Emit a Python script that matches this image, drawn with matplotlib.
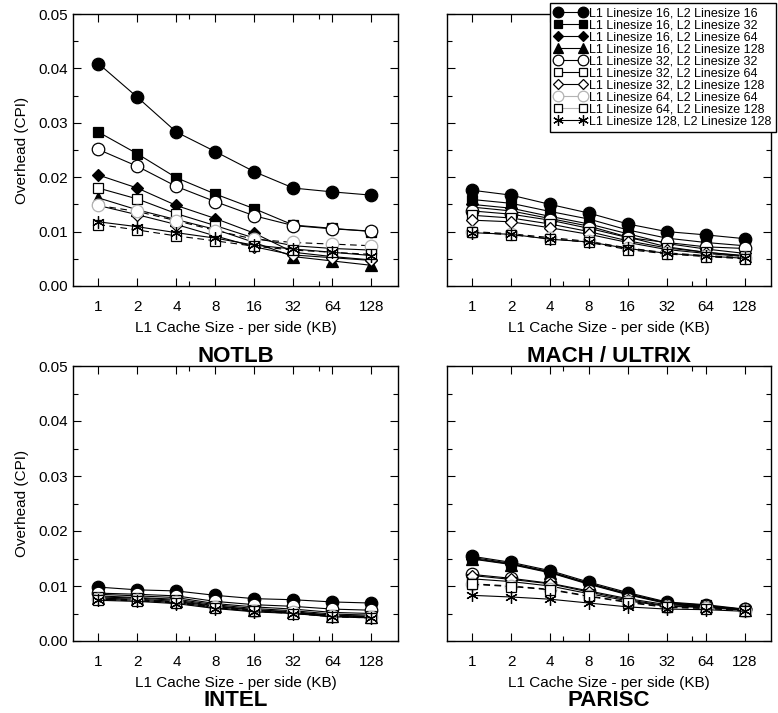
"""Overhead (CPI) vs L1 cache size for four systems, ten linesize configurations."""

import matplotlib
matplotlib.use("Agg")
import matplotlib.pyplot as plt
from matplotlib.lines import Line2D
from matplotlib.ticker import FixedLocator, MultipleLocator

plt.rcParams["font.family"] = ["Liberation Sans", "DejaVu Sans"]

sizes = ["1", "2", "4", "8", "16", "32", "64", "128"]

labels = [
    "L1 Linesize 16, L2 Linesize 16",
    "L1 Linesize 16, L2 Linesize 32",
    "L1 Linesize 16, L2 Linesize 64",
    "L1 Linesize 16, L2 Linesize 128",
    "L1 Linesize 32, L2 Linesize 32",
    "L1 Linesize 32, L2 Linesize 64",
    "L1 Linesize 32, L2 Linesize 128",
    "L1 Linesize 64, L2 Linesize 64",
    "L1 Linesize 64, L2 Linesize 128",
    "L1 Linesize 128, L2 Linesize 128",
]

notlb = [
    [0.0409, 0.0347, 0.0283, 0.0247, 0.0210, 0.0180, 0.0173, 0.0167],
    [0.0283, 0.0243, 0.0199, 0.0169, 0.0142, 0.0112, 0.0106, 0.0100],
    [0.0204, 0.0180, 0.0148, 0.0124, 0.0097, 0.0062, 0.0054, 0.0048],
    [0.0162, 0.0140, 0.0122, 0.0104, 0.0080, 0.0054, 0.0046, 0.0038],
    [0.0251, 0.0220, 0.0183, 0.0155, 0.0129, 0.0111, 0.0105, 0.0101],
    [0.0180, 0.0160, 0.0133, 0.0111, 0.0088, 0.0074, 0.0069, 0.0066],
    [0.0148, 0.0131, 0.0113, 0.0092, 0.0072, 0.0057, 0.0052, 0.0047],
    [0.0148, 0.0137, 0.0120, 0.0102, 0.0086, 0.0080, 0.0077, 0.0074],
    [0.0113, 0.0103, 0.0092, 0.0083, 0.0073, 0.0066, 0.0062, 0.0058],
    [0.0118, 0.0109, 0.0098, 0.0088, 0.0075, 0.0068, 0.0062, 0.0056],
]

mach = [
    [0.0176, 0.0167, 0.0150, 0.0134, 0.0114, 0.0100, 0.0094, 0.0087],
    [0.0159, 0.0152, 0.0137, 0.0123, 0.0103, 0.0088, 0.0080, 0.0074],
    [0.0150, 0.0143, 0.0128, 0.0114, 0.0096, 0.0078, 0.0068, 0.0060],
    [0.0145, 0.0138, 0.0124, 0.0110, 0.0090, 0.0072, 0.0062, 0.0055],
    [0.0138, 0.0132, 0.0121, 0.0106, 0.0089, 0.0080, 0.0072, 0.0069],
    [0.0130, 0.0125, 0.0114, 0.0100, 0.0083, 0.0070, 0.0062, 0.0056],
    [0.0121, 0.0118, 0.0107, 0.0095, 0.0080, 0.0067, 0.0060, 0.0054],
    [0.0100, 0.0096, 0.0089, 0.0082, 0.0070, 0.0061, 0.0056, 0.0052],
    [0.0099, 0.0094, 0.0087, 0.0080, 0.0067, 0.0059, 0.0054, 0.0050],
    [0.0098, 0.0095, 0.0086, 0.0081, 0.0069, 0.0060, 0.0055, 0.0051],
]

intel = [
    [0.0098, 0.0093, 0.0091, 0.0083, 0.0077, 0.0075, 0.0071, 0.0069],
    [0.0085, 0.0082, 0.0079, 0.0068, 0.0062, 0.0058, 0.0052, 0.0050],
    [0.0082, 0.0079, 0.0076, 0.0066, 0.0059, 0.0055, 0.0049, 0.0047],
    [0.0078, 0.0076, 0.0072, 0.0063, 0.0056, 0.0052, 0.0046, 0.0044],
    [0.0087, 0.0085, 0.0082, 0.0072, 0.0066, 0.0063, 0.0058, 0.0056],
    [0.0080, 0.0078, 0.0074, 0.0064, 0.0057, 0.0053, 0.0047, 0.0045],
    [0.0076, 0.0074, 0.0070, 0.0061, 0.0054, 0.0051, 0.0045, 0.0043],
    [0.0077, 0.0075, 0.0071, 0.0062, 0.0055, 0.0052, 0.0046, 0.0044],
    [0.0075, 0.0073, 0.0069, 0.0060, 0.0054, 0.0050, 0.0044, 0.0042],
    [0.0074, 0.0072, 0.0068, 0.0059, 0.0053, 0.0050, 0.0044, 0.0042],
]

parisc = [
    [0.0154, 0.0143, 0.0128, 0.0107, 0.0088, 0.0071, 0.0066, 0.0058],
    [0.0152, 0.0141, 0.0126, 0.0105, 0.0086, 0.0070, 0.0065, 0.0057],
    [0.0150, 0.0140, 0.0125, 0.0104, 0.0085, 0.0069, 0.0064, 0.0057],
    [0.0149, 0.0139, 0.0124, 0.0103, 0.0084, 0.0068, 0.0063, 0.0056],
    [0.0121, 0.0114, 0.0105, 0.0091, 0.0077, 0.0066, 0.0063, 0.0058],
    [0.0113, 0.0108, 0.0100, 0.0086, 0.0073, 0.0063, 0.0061, 0.0056],
    [0.0119, 0.0112, 0.0104, 0.0089, 0.0075, 0.0064, 0.0062, 0.0057],
    [0.0104, 0.0100, 0.0094, 0.0082, 0.0071, 0.0062, 0.0060, 0.0055],
    [0.0103, 0.0099, 0.0093, 0.0081, 0.0070, 0.0061, 0.0059, 0.0055],
    [0.0083, 0.0080, 0.0076, 0.0069, 0.0062, 0.0058, 0.0057, 0.0054],
]

panels = [("NOTLB", notlb), ("MACH / ULTRIX", mach), ("INTEL", intel), ("PARISC", parisc)]

# marker, size, face, edge, line colour in legend, line style in plot
styles = [
    ("o", 9, "k", "k", "k", "-"),
    ("s", 7.5, "k", "k", "k", "-"),
    ("D", 6.5, "k", "k", "k", "-"),
    ("^", 8, "k", "k", "k", "-"),
    ("o", 9, "w", "k", "k", "-"),
    ("s", 7.5, "w", "k", "k", "-"),
    ("D", 6.5, "w", "k", "k", "-"),
    ("o", 9, "w", "0.7", "0.7", "--"),
    ("s", 7.5, "w", "k", "0.7", "--"),
    ((6, 2, 0), 9, "k", "k", "k", "-"),
]

W, H = 778, 713
fig = plt.figure(figsize=(W / 100, H / 100), dpi=100)

# pixel boxes: left, right, top, bottom
boxes = [(73, 398, 14, 286), (447, 771, 14, 286), (73, 398, 366, 641), (447, 771, 366, 641)]
title_y = [356, 356, 700, 700]

x = list(range(len(sizes)))
for i, ((name, data), (l, r, t, b)) in enumerate(zip(panels, boxes)):
    ax = fig.add_axes([l / W, 1 - b / H, (r - l) / W, (b - t) / H])
    for series, st in zip(data, styles):
        m, ms, fc, ec, lc, ls = st
        ax.plot(x, series, color="k", lw=0.8, ls=ls, dashes=(6, 4) if ls == "--" else (None, None),
                marker=m, markersize=ms, markerfacecolor=fc, markeredgecolor=ec,
                markeredgewidth=0.9)
    ax.set_xlim(-0.65, 7.68)
    ax.set_ylim(0, 0.05)
    ax.set_xticks(x)
    ax.set_xticklabels(sizes)
    ax.xaxis.set_minor_locator(FixedLocator([2.33, 5.65]))
    ax.yaxis.set_major_locator(MultipleLocator(0.01))
    ax.yaxis.set_minor_locator(MultipleLocator(0.005))
    ax.tick_params(which="both", direction="in", top=True, right=True, labelsize=11)
    ax.tick_params(which="major", length=6, width=0.8)
    ax.tick_params(which="minor", length=3.5, width=0.8)
    ax.tick_params(axis="x", pad=10)
    for sp in ax.spines.values():
        sp.set_linewidth(1.0)
    ax.set_xlabel("L1 Cache Size - per side (KB)", fontsize=11, labelpad=5)
    if i % 2 == 0:
        ax.yaxis.set_major_formatter(plt.FuncFormatter(lambda v, p: f"{v:.2f}"))
        ax.set_ylabel("Overhead (CPI)", fontsize=11, labelpad=7)
    else:
        ax.set_yticklabels([])
    fig.text((l + r) / 2 / W, 1 - title_y[i] / H, name, ha="center", va="center",
             fontsize=16, fontweight="bold")

handles = []
for st in styles:
    m, ms, fc, ec, lc, ls = st
    handles.append(Line2D([], [], color=lc, lw=0.8, marker=m, markersize=ms * 0.85,
                          markerfacecolor=fc, markeredgecolor=ec, markeredgewidth=0.9))
leg = fig.legend(handles, labels, loc="upper right", bbox_to_anchor=(776 / W, 1 - 3 / H),
                 fontsize=9, numpoints=2, handlelength=2.6, handletextpad=0.2,
                 labelspacing=0.0, borderpad=0.35, borderaxespad=0, fancybox=False,
                 framealpha=1, edgecolor="k")
leg.get_frame().set_linewidth(1.0)

fig.savefig("out.png", dpi=100)
